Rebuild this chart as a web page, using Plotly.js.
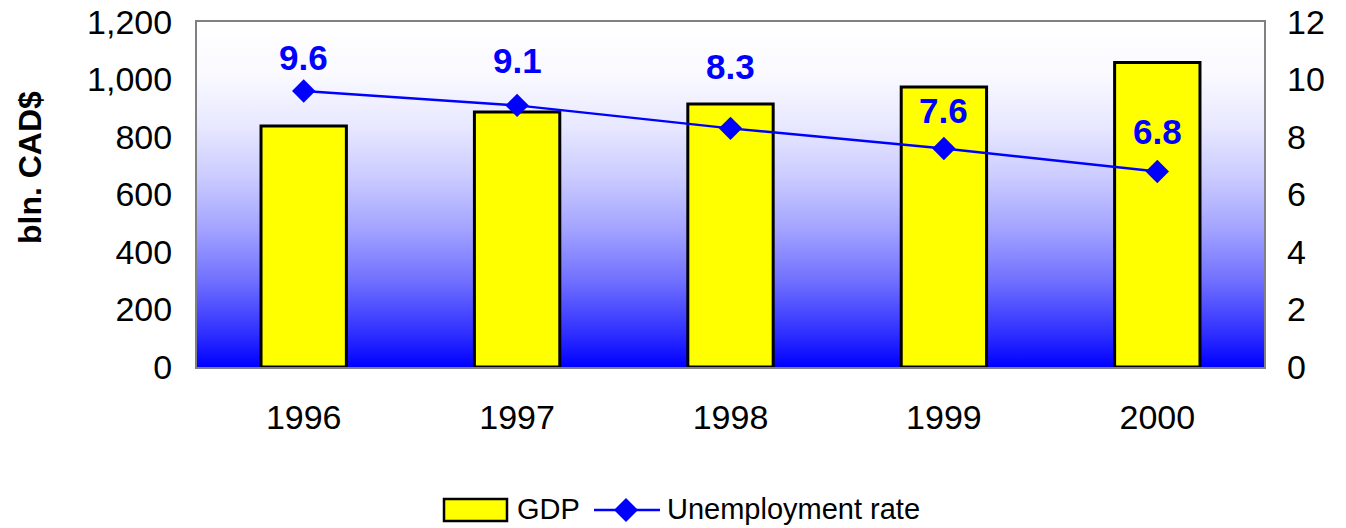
<!DOCTYPE html>
<html>
<head>
<meta charset="utf-8">
<script src="https://cdn.plot.ly/plotly-3.0.1.min.js"></script>
<style>
  html, body { margin: 0; padding: 0; background: #ffffff; }
  #chart { width: 1346px; height: 528px; }
</style>
</head>
<body>
<div id="chart"></div>
<script>
const years = ['1996', '1997', '1998', '1999', '2000'];
const gdp = [838, 887, 915, 974, 1059];
const unemployment = [9.6, 9.1, 8.3, 7.6, 6.8];
const leftTicks = [0, 200, 400, 600, 800, 1000, 1200];
const rightTicks = [0, 2, 4, 6, 8, 10, 12];
const seriesNames = ['GDP', 'Unemployment rate'];

// style: vertical offset (px) of each data label above its marker
const labelShift = [34, 45, 62, 38, 40];

const FONT = 'Liberation Sans, Arial, sans-serif';
const W = 1346, H = 528;
const M = { l: 197, r: 82, t: 22, b: 161 };
const PW = W - M.l - M.r, PH = H - M.t - M.b;
// pixel -> paper helpers (for legend / title decoration only)
const px = x => (x - M.l) / PW;
const py = y => (H - M.b - y) / PH;

// vertical background gradient (white at top, blue at bottom)
const gradStops = [
  [0, 'rgb(255,255,255)'],
  [0.15, 'rgb(250,250,255)'],
  [0.3, 'rgb(232,232,255)'],
  [0.45, 'rgb(203,203,255)'],
  [0.6, 'rgb(163,163,255)'],
  [0.75, 'rgb(112,112,255)'],
  [0.9, 'rgb(48,48,255)'],
  [1, 'rgb(0,0,255)']
];
const svg = '<svg xmlns="http://www.w3.org/2000/svg" width="100" height="100" preserveAspectRatio="none">' +
  '<defs><linearGradient id="g" x1="0" y1="0" x2="0" y2="1">' +
  gradStops.map(s => '<stop offset="' + s[0] + '" stop-color="' + s[1] + '"/>').join('') +
  '</linearGradient></defs><rect width="100" height="100" fill="url(#g)"/></svg>';
const bgUri = 'data:image/svg+xml;utf8,' + encodeURIComponent(svg);

const traces = [
  {
    type: 'bar',
    name: seriesNames[0],
    x: years,
    y: gdp,
    width: 0.4,
    marker: { color: '#FFFF00', line: { color: '#000000', width: 3 } },
    hoverinfo: 'skip'
  },
  {
    type: 'scatter',
    mode: 'lines+markers',
    name: seriesNames[1],
    x: years,
    y: unemployment,
    yaxis: 'y2',
    line: { color: '#0000FF', width: 2.5 },
    marker: { symbol: 'diamond', size: 18, color: '#0000FF' },
    hoverinfo: 'skip'
  }
];

// custom legend (to match the wide swatches of the original)
const legendY = 509;
const shapes = [
  { type: 'rect', xref: 'paper', yref: 'paper',
    x0: px(444), x1: px(507), y0: py(521), y1: py(499),
    fillcolor: '#FFFF00', line: { color: '#000000', width: 2.5 } },
  { type: 'line', xref: 'paper', yref: 'paper',
    x0: px(594), x1: px(660), y0: py(legendY + 1), y1: py(legendY + 1),
    line: { color: '#0000FF', width: 2.5 } },
  { type: 'path', xref: 'paper', yref: 'paper',
    path: 'M ' + px(626) + ',' + py(legendY - 11) + ' L ' + px(638) + ',' + py(legendY + 1) +
          ' L ' + px(626) + ',' + py(legendY + 13) + ' L ' + px(614) + ',' + py(legendY + 1) + ' Z',
    fillcolor: '#0000FF', line: { color: '#0000FF', width: 0 } }
];

const annotations = [
  { xref: 'paper', yref: 'paper', x: px(515), y: py(legendY), xanchor: 'left', yanchor: 'middle',
    text: seriesNames[0], showarrow: false, font: { family: FONT, size: 29, color: '#000000' } },
  { xref: 'paper', yref: 'paper', x: px(665), y: py(legendY), xanchor: 'left', yanchor: 'middle',
    text: seriesNames[1], showarrow: false, font: { family: FONT, size: 29, color: '#000000' } },
  { xref: 'paper', yref: 'paper', x: px(30), y: py(168), xanchor: 'center', yanchor: 'middle',
    textangle: -90, text: 'bln. CAD$', showarrow: false,
    font: { family: FONT, size: 32, color: '#000000', weight: 'bold' } }
].concat(unemployment.map((v, i) => ({
  // on a category axis, annotation x is the category's index
  xref: 'x', yref: 'y2', x: i, y: v,
  xanchor: 'center', yanchor: 'middle', yshift: labelShift[i],
  text: v.toFixed(1), showarrow: false,
  font: { family: FONT, size: 35, color: '#0000FF', weight: 'bold' }
})));

const layout = {
  width: W,
  height: H,
  margin: { l: M.l, r: M.r, t: M.t, b: M.b, autoexpand: false },
  paper_bgcolor: '#ffffff',
  plot_bgcolor: 'rgba(0,0,0,0)',
  font: { family: FONT, size: 34, color: '#000000' },
  showlegend: false,
  xaxis: {
    type: 'category',
    categoryarray: years,
    range: [-0.5, years.length - 0.5],
    tickvals: years,
    ticktext: years,
    showgrid: false,
    zeroline: false,
    showline: true,
    linecolor: '#808080',
    linewidth: 2,
    mirror: true,
    ticks: '',
    ticklabelstandoff: 19,
    tickfont: { family: FONT, size: 34 }
  },
  yaxis: {
    range: [0, 1200],
    tickvals: leftTicks,
    tickformat: ',d',
    showgrid: false,
    zeroline: false,
    showline: true,
    linecolor: '#808080',
    linewidth: 2,
    mirror: true,
    ticks: '',
    ticklabelstandoff: 16,
    tickfont: { family: FONT, size: 34 }
  },
  yaxis2: {
    range: [0, 12],
    tickvals: rightTicks,
    overlaying: 'y',
    side: 'right',
    showgrid: false,
    zeroline: false,
    showline: false,
    ticks: '',
    ticklabelstandoff: 22,
    tickfont: { family: FONT, size: 34 }
  },
  shapes: shapes,
  annotations: annotations,
  images: [{
    source: bgUri,
    xref: 'paper', yref: 'paper',
    x: 0, y: 1, sizex: 1, sizey: 1,
    xanchor: 'left', yanchor: 'top',
    sizing: 'stretch',
    layer: 'below'
  }]
};

Plotly.newPlot('chart', traces, layout, { displayModeBar: false, staticPlot: true });
</script>
</body>
</html>
